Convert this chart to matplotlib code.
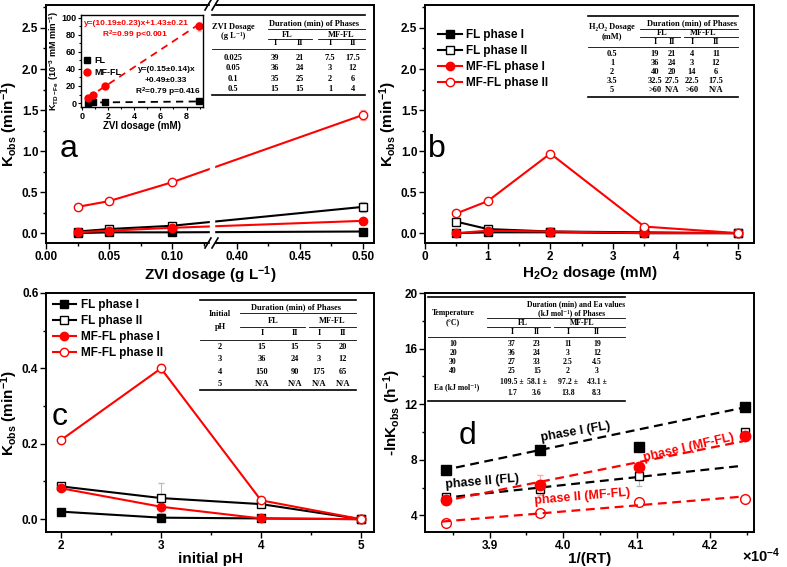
import matplotlib
matplotlib.use('Agg')
import matplotlib.pyplot as plt
from matplotlib.lines import Line2D
from matplotlib.patches import Rectangle
from matplotlib.ticker import MultipleLocator, FixedLocator

plt.rcParams['font.family'] = ['Liberation Sans', 'DejaVu Sans']
plt.rcParams['font.weight'] = 'bold'
plt.rcParams['axes.labelweight'] = 'bold'
plt.rcParams['mathtext.fontset'] = 'custom'
plt.rcParams['mathtext.rm'] = 'Liberation Sans:bold'
plt.rcParams['mathtext.bf'] = 'Liberation Sans:bold'
plt.rcParams['mathtext.it'] = 'Liberation Sans:italic:bold'
plt.rcParams['mathtext.default'] = 'rm'
plt.rcParams['axes.linewidth'] = 1.4
plt.rcParams['xtick.direction'] = 'out'
plt.rcParams['ytick.direction'] = 'out'

SERIF = ['Liberation Serif', 'DejaVu Serif']

# ---- panel a: ZVI dosage ----
zvi_dose = [0.025, 0.05, 0.1, 0.5]
zvi_fl1 = [0.00, 0.01, 0.01, 0.02]
zvi_fl2 = [0.02, 0.05, 0.09, 0.32]
zvi_mf1 = [0.01, 0.03, 0.065, 0.15]
zvi_mf2 = [0.32, 0.39, 0.62, 1.44]
zvi_fl2_err = [0.005, 0.01, 0.01, 0.06]
zvi_mf2_err = [0.01, 0.01, 0.02, 0.06]

# inset: K_TD-Fe vs ZVI dosage (mM)
zvi_mM = [0.45, 0.9, 1.8, 8.95]
ktd_fl = [0.5, 0.6, 0.7, 1.8]
ktd_mf = [5.5, 10.0, 20.0, 90.0]
ktd_mf_err = [0.5, 0.6, 1.0, 5.0]
fit_x = [0.45, 8.95]
fit_fl = [0.56, 1.83]
fit_mf = [6.0, 92.6]

# ---- panel b: H2O2 dosage ----
h2o2 = [0.5, 1, 2, 3.5, 5]
b_fl1 = [0.0, 0.01, 0.01, 0.0, 0.0]
b_fl2 = [0.14, 0.05, 0.02, 0.01, 0.0]
b_mf1 = [0.0, 0.03, 0.02, 0.0, 0.0]
b_mf2 = [0.24, 0.39, 0.97, 0.08, 0.0]

# ---- panel c: initial pH ----
ph = [2, 3, 4, 5]
c_fl1 = [0.02, 0.004, 0.002, 0.0]
c_fl2 = [0.087, 0.056, 0.04, 0.0]
c_mf1 = [0.082, 0.033, 0.002, 0.0]
c_mf2 = [0.21, 0.40, 0.05, 0.0]
c_fl2_err = [0.005, 0.04, 0.005, 0.0]
c_mf2_err = [0.005, 0.012, 0.005, 0.0]

# ---- panel d: Arrhenius ----
inv_rt = [3.841, 3.968, 4.103, 4.248]
d_fl1 = [7.28, 8.68, 8.89, 11.78]
d_fl2 = [5.31, 5.91, 6.80, 10.01]
d_mf1 = [5.07, 6.18, 7.45, 9.69]
d_mf2 = [3.48, 4.20, 4.99, 5.19]
d_fl2_err = [0.1, 0.1, 0.7, 0.2]
d_mf1_err = [0.2, 0.7, 0.2, 0.3]
fit_rt = [3.835, 4.245]
d_fit_fl1 = [7.23, 11.74]
d_fit_fl2 = [5.24, 7.57]
d_fit_mf1 = [5.00, 9.33]
d_fit_mf2 = [3.55, 5.35]

# ---- tables ----
phase_cols = ['I', 'II', 'I', 'II']
zvi_rows = ['0.025', '0.05', '0.1', '0.5']
zvi_table = [['39', '21', '7.5', '17.5'], ['36', '24', '3', '12'],
             ['35', '25', '2', '6'], ['15', '15', '1', '4']]
h2o2_rows = ['0.5', '1', '2', '3.5', '5']
h2o2_table = [['19', '21', '4', '11'], ['36', '24', '3', '12'],
              ['40', '20', '14', '6'], ['32.5', '27.5', '22.5', '17.5'],
              ['>60', 'N/A', '>60', 'N/A']]
ph_rows = ['2', '3', '4', '5']
ph_table = [['15', '15', '5', '20'], ['36', '24', '3', '12'],
            ['150', '90', '175', '65'], ['N/A', 'N/A', 'N/A', 'N/A']]
temp_rows = ['10', '20', '30', '40']
temp_table = [['37', '23', '11', '19'], ['36', '24', '3', '12'],
              ['27', '33', '2.5', '4.5'], ['25', '15', '2', '3']]
ea_vals = ['109.5 \u00b1', '58.1 \u00b1', '97.2 \u00b1', '43.1 \u00b1']
ea_errs = ['1.7', '3.6', '13.8', '8.3']

labels = ['FL phase I', 'FL phase II', 'MF-FL phase I', 'MF-FL phase II']

W, H = 787, 567
fig = plt.figure(figsize=(W / 100, H / 100), dpi=100)


def box(l, t, r, b):
    return [l / W, 1 - b / H, (r - l) / W, (b - t) / H]


def ttext(x, y, s, size=6.0):
    fig.text(x / W, 1 - y / H, s, ha='center', va='center', fontsize=size,
             family=SERIF, fontweight='bold', zorder=3)


def hline(x0, x1, y, lw=0.6):
    fig.add_artist(Line2D([x0 / W, x1 / W], [1 - y / H, 1 - y / H],
                          color='black', lw=lw, zorder=3))


def series(ax, x, ys, ms=6):
    styles = [('black', 's', 'black'), ('black', 's', 'white'),
              ('red', 'o', 'red'), ('red', 'o', 'white')]
    for y, (c, m, fc), lab in zip(ys, styles, labels):
        ax.plot(x, y, color=c, lw=1.5, marker=m, ms=ms, mfc=fc, mec=c,
                mew=1.0, label=lab, zorder=3)


def style(ax):
    ax.tick_params(which='both', top=False, right=False, labelsize=8.5, width=1.0, pad=1.5)
    ax.tick_params(which='major', length=4)
    ax.tick_params(which='minor', length=2.5)


# ---------------- panel a ----------------
def brk(v):
    return v if v < 0.2 else v - 0.2485


axa = fig.add_axes(box(46, 5, 374, 243))
xa = [brk(v) for v in zvi_dose]
axa.errorbar(xa, zvi_fl2, yerr=zvi_fl2_err, fmt='none', ecolor='#bbbbbb', elinewidth=0.8, capsize=2, zorder=2)
axa.errorbar(xa, zvi_mf2, yerr=zvi_mf2_err, fmt='none', ecolor='#ffaaaa', elinewidth=0.8, capsize=2, zorder=2)
series(axa, xa, [zvi_fl1, zvi_fl2, zvi_mf1, zvi_mf2])
axa.set_xlim(0, 0.2603)
axa.set_ylim(-0.12, 2.78)
major_a = [0.0, 0.05, 0.10, 0.40, 0.45, 0.50]
axa.xaxis.set_major_locator(FixedLocator([brk(v) for v in major_a]))
axa.set_xticklabels(['0.00', '0.05', '0.10', '0.40', '0.45', '0.50'])
axa.xaxis.set_minor_locator(FixedLocator([brk(v) for v in [0.025, 0.075, 0.125, 0.425, 0.475]]))
axa.yaxis.set_major_locator(MultipleLocator(0.5))
axa.yaxis.set_minor_locator(MultipleLocator(0.25))
style(axa)
axa.set_xlabel('ZVI dosage (g L$^{-1}$)', fontsize=11, labelpad=1)
axa.set_ylabel('K$_{obs}$ (min$^{-1}$)', fontsize=11, labelpad=1)
axa.text(0.011, 1.02, 'a', fontsize=23, fontweight='normal', va='center')

# axis break
fig.add_artist(Rectangle((209.5 / W, 1 - 246 / H), 4 / W, 244 / H, color='white', zorder=1))
for yb in (243, 5):
    for xb in (208, 215):
        fig.add_artist(Line2D([(xb - 3) / W, (xb + 3) / W], [1 - (yb + 5) / H, 1 - (yb - 5) / H],
                              color='black', lw=1.2, zorder=2))

# inset
axi = fig.add_axes(box(81, 15, 203, 107))
axi.plot(fit_x, fit_mf, color='red', ls='--', lw=1.3, dashes=(4, 3))
axi.plot(fit_x, fit_fl, color='black', ls='--', lw=1.3, dashes=(4, 3))
axi.errorbar(zvi_mM, ktd_mf, yerr=ktd_mf_err, fmt='none', ecolor='#ffaaaa', elinewidth=0.8, capsize=1.5)
axi.plot(zvi_mM, ktd_fl, 's', color='black', ms=4.5, label='FL')
axi.plot(zvi_mM, ktd_mf, 'o', color='red', ms=5, label='MF-FL')
axi.set_xlim(-0.05, 9.25)
axi.set_ylim(-4.7, 103.5)
axi.xaxis.set_major_locator(MultipleLocator(2))
axi.xaxis.set_minor_locator(MultipleLocator(1))
axi.yaxis.set_major_locator(MultipleLocator(20))
axi.yaxis.set_minor_locator(MultipleLocator(10))
for s in axi.spines.values():
    s.set_linewidth(1.0)
axi.tick_params(which='both', top=False, right=False, labelsize=6.5, width=0.8, pad=1)
axi.tick_params(which='major', length=2.5)
axi.tick_params(which='minor', length=1.5)
axi.set_xlabel('ZVI dosage (mM)', fontsize=7, labelpad=0)
axi.set_ylabel('K$_{TD-Fe}$ (10$^{-3}$ mM min$^{-1}$)', fontsize=6.5, labelpad=0)
axi.legend(loc='upper left', bbox_to_anchor=(-0.03, 0.6), frameon=False, fontsize=6.5,
           handletextpad=0.2, labelspacing=0.3, handlelength=1.2, borderpad=0)
axi.text(4.2, 94, 'y=(10.19\u00b10.23)x+1.43\u00b10.21', color='red', fontsize=6, ha='center', va='center')
axi.text(4.1, 80, 'R$^2$=0.99 p<0.001', color='red', fontsize=6, ha='center', va='center')
axi.text(6.5, 39, 'y=(0.15\u00b10.14)x', fontsize=6, ha='center', va='center')
axi.text(6.4, 27, '+0.49\u00b10.33', fontsize=6, ha='center', va='center')
axi.text(6.6, 13, 'R$^2$=0.79 p=0.416', fontsize=6, ha='center', va='center')

# table a
hline(212, 365, 15, 1.2)
ttext(314, 23, 'Duration (min) of Phases')
hline(268, 365, 29)
ttext(287, 35, 'FL')
ttext(341, 35, 'MF-FL')
hline(268, 312, 39)
hline(318, 365, 39)
for xc, s in zip([275, 300, 330, 353], phase_cols):
    ttext(xc, 43, s)
hline(212, 365, 49)
ttext(233, 27, 'ZVI Dosage')
ttext(233, 36, '(g L\u207b\u00b9)')
for yr, lab, row in zip([58, 68, 79, 89], zvi_rows, zvi_table):
    ttext(233, yr, lab)
    for xc, s in zip([275, 300, 330, 353], row):
        ttext(xc, yr, s)
hline(212, 365, 95, 1.2)

# ---------------- panel b ----------------
axb = fig.add_axes(box(425, 5, 754, 243))
series(axb, h2o2, [b_fl1, b_fl2, b_mf1, b_mf2])
axb.set_xlim(0, 5.25)
axb.set_ylim(-0.12, 2.78)
axb.xaxis.set_major_locator(MultipleLocator(1))
axb.xaxis.set_minor_locator(MultipleLocator(0.5))
axb.yaxis.set_major_locator(MultipleLocator(0.5))
axb.yaxis.set_minor_locator(MultipleLocator(0.25))
style(axb)
axb.set_xlabel('H$_2$O$_2$ dosage (mM)', fontsize=11, labelpad=1)
axb.set_ylabel('K$_{obs}$ (min$^{-1}$)', fontsize=11, labelpad=1)
axb.text(0.05, 1.02, 'b', fontsize=23, fontweight='normal', va='center')
axb.legend(loc='upper left', bbox_to_anchor=(0.04, 0.9), frameon=False, fontsize=8.5,
           handlelength=2.0, handletextpad=0.4, labelspacing=0.35, borderpad=0, borderaxespad=0)

# table b
hline(588, 738, 16, 1.2)
ttext(692, 23, 'Duration (min) of Phases')
hline(640, 738, 29)
ttext(662, 33, 'FL')
ttext(703, 33, 'MF-FL')
hline(640, 680, 37)
hline(684, 738, 37)
for xc, s in zip([655, 672, 692, 716], phase_cols):
    ttext(xc, 42, s)
hline(588, 738, 47)
ttext(612, 27, 'H\u2082O\u2082 Dosage')
ttext(612, 36, '(mM)')
for yr, lab, row in zip([54, 63, 72, 81, 90], h2o2_rows, h2o2_table):
    ttext(612, yr, lab)
    for xc, s in zip([655, 672, 692, 716], row):
        ttext(xc, yr, s)
hline(588, 738, 97, 1.2)

# ---------------- panel c ----------------
axc = fig.add_axes(box(46, 293, 374, 532))
axc.errorbar(ph, c_fl2, yerr=c_fl2_err, fmt='none', ecolor='#bbbbbb', elinewidth=0.8, capsize=2, zorder=2)
axc.errorbar(ph, c_mf2, yerr=c_mf2_err, fmt='none', ecolor='#ffaaaa', elinewidth=0.8, capsize=2, zorder=2)
series(axc, ph, [c_fl1, c_fl2, c_mf1, c_mf2])
axc.set_xlim(1.85, 5.13)
axc.set_ylim(-0.034, 0.6)
axc.xaxis.set_major_locator(MultipleLocator(1))
axc.xaxis.set_minor_locator(MultipleLocator(0.5))
axc.yaxis.set_major_locator(MultipleLocator(0.2))
axc.yaxis.set_minor_locator(MultipleLocator(0.1))
style(axc)
axc.set_xlabel('initial pH', fontsize=11, labelpad=0)
axc.set_ylabel('K$_{obs}$ (min$^{-1}$)', fontsize=11, labelpad=1)
axc.text(1.91, 0.27, 'c', fontsize=23, fontweight='normal', va='center')
axc.legend(loc='upper left', bbox_to_anchor=(0.02, 0.975), frameon=False, fontsize=8.5,
           handlelength=2.0, handletextpad=0.4, labelspacing=0.35, borderpad=0, borderaxespad=0)

# table c
hline(200, 356, 300, 1.2)
ttext(296, 307, 'Duration (min) of Phases')
hline(240, 356, 313)
ttext(273, 321, 'FL')
ttext(332, 321, 'MF-FL')
hline(240, 305, 327)
hline(309, 356, 327)
for xc, s in zip([262, 295, 319, 343], phase_cols):
    ttext(xc, 333, s)
hline(200, 356, 340)
ttext(220, 314, 'Initial')
ttext(220, 327, 'pH')
for yr, lab, row in zip([347, 359, 372, 384], ph_rows, ph_table):
    ttext(220, yr, lab)
    for xc, s in zip([262, 295, 319, 343], row):
        ttext(xc, yr, s)
hline(200, 356, 390, 1.2)

# ---------------- panel d ----------------
axd = fig.add_axes(box(425, 293, 754, 532))
dash = dict(ls='--', lw=1.6, dashes=(4, 2.5))
axd.plot(fit_rt, d_fit_fl1, color='black', **dash)
axd.plot(fit_rt, d_fit_fl2, color='black', **dash)
axd.plot(fit_rt, d_fit_mf1, color='red', **dash)
axd.plot(fit_rt, d_fit_mf2, color='red', **dash)
axd.errorbar(inv_rt, d_fl2, yerr=d_fl2_err, fmt='none', ecolor='#bbbbbb', elinewidth=0.8, capsize=2)
axd.errorbar(inv_rt, d_mf1, yerr=d_mf1_err, fmt='none', ecolor='#ffaaaa', elinewidth=0.8, capsize=2)
axd.plot(inv_rt, d_fl1, 's', color='black', ms=6.5, zorder=3)
axd.plot(inv_rt, d_fl2, 's', color='black', mfc='white', ms=6, zorder=3)
axd.plot(inv_rt, d_mf1, 'o', color='red', ms=7.5, zorder=3)
axd.plot(inv_rt, d_mf2, 'o', color='red', mfc='none', ms=7, zorder=3)
axd.set_xlim(3.812, 4.26)
axd.set_ylim(2.8, 20)
axd.xaxis.set_major_locator(MultipleLocator(0.1))
axd.xaxis.set_minor_locator(MultipleLocator(0.05))
axd.yaxis.set_major_locator(MultipleLocator(4))
axd.yaxis.set_minor_locator(MultipleLocator(2))
style(axd)
axd.set_xlabel('1/(RT)', fontsize=11, labelpad=0)
axd.set_ylabel('-lnK$_{obs}$ (h$^{-1}$)', fontsize=11, labelpad=1)
fig.text(781 / W, 1 - 556 / H, '\u00d710$^{-4}$', ha='right', va='center', fontsize=10.5)
axd.text(3.87, 9.7, 'd', fontsize=23, fontweight='normal', ha='center', va='center')
axd.text(4.017, 10.03, 'phase I (FL)', fontsize=9, rotation=10, ha='center', va='center')
axd.text(3.890, 6.42, 'phase II (FL)', fontsize=9, rotation=5, ha='center', va='center')
axd.text(4.171, 8.87, 'phase I (MF-FL)', fontsize=9, rotation=13, color='red', ha='center', va='center')
axd.text(4.026, 5.33, 'phase II (MF-FL)', fontsize=9, rotation=5, color='red', ha='center', va='center')

# table d
hline(428, 625, 297, 1.2)
ttext(576, 304, 'Duration (min) and Ea values', 5.6)
ttext(572, 313, '(kJ mol\u207b\u00b9) of Phases', 5.6)
hline(487, 625, 318)
ttext(523, 323, 'FL', 5.6)
ttext(582, 323, 'MF-FL', 5.6)
hline(487, 550, 327)
hline(554, 625, 327)
for xc, s in zip([512, 537, 568, 597], phase_cols):
    ttext(xc, 332, s, 5.6)
hline(428, 625, 337)
ttext(453, 313, 'Temperature', 5.6)
ttext(453, 322, '(\u00b0C)', 5.6)
for yr, lab, row in zip([344, 353, 362, 371], temp_rows, temp_table):
    ttext(453, yr, lab, 5.6)
    for xc, s in zip([512, 537, 568, 597], row):
        ttext(xc, yr, s, 5.6)
ttext(457, 387.5, 'Ea (kJ mol\u207b\u00b9)', 5.6)
for xc, v, e in zip([512, 537, 568, 597], ea_vals, ea_errs):
    ttext(xc, 382, v, 5.6)
    ttext(xc, 393, e, 5.6)
hline(428, 625, 401, 1.2)

fig.savefig('out.png', dpi=100)
